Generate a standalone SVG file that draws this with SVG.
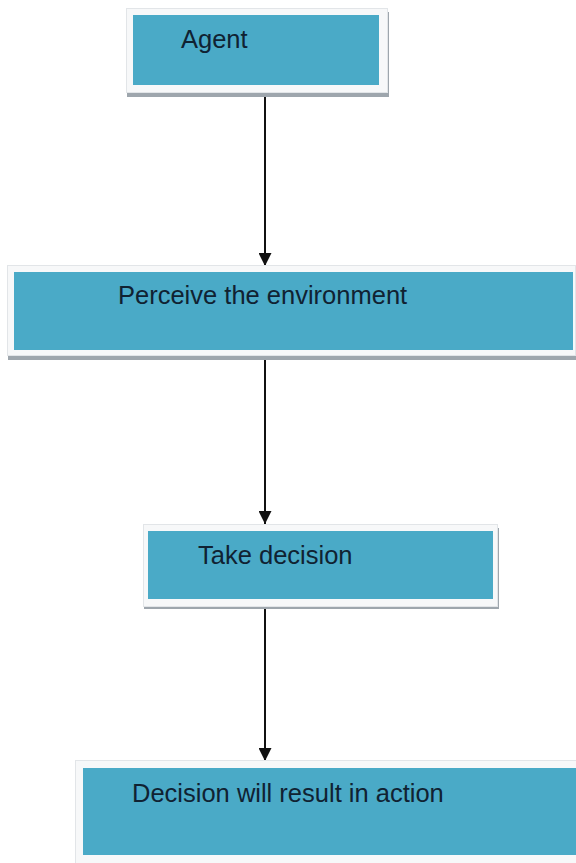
<svg xmlns="http://www.w3.org/2000/svg" width="576" height="863" viewBox="0 0 576 863">
<defs>
<style>
.frame{fill:#f7f8f9;stroke:#e2e5e8;stroke-width:1}
.shadow{fill:#9ea6ad}
.box{fill:#4aaac7}
.lbl{font-family:"Liberation Sans",Arial,sans-serif;font-size:25.5px;fill:#102232}
.conn{stroke:#111;stroke-width:2;fill:none}
</style>
<marker id="arr" viewBox="0 0 10 10" refX="10" refY="5" markerWidth="6.5" markerHeight="6.5" orient="auto" markerUnits="strokeWidth">
<path d="M0,0 L10,5 L0,10 Z" fill="#111"/>
</marker>
</defs>
<rect width="576" height="863" fill="#ffffff"/>
<g id="connectors">
<line class="conn" x1="265" y1="96" x2="265" y2="266" marker-end="url(#arr)"/>
<line class="conn" x1="265" y1="359" x2="265" y2="524" marker-end="url(#arr)"/>
<line class="conn" x1="265" y1="609" x2="265" y2="761" marker-end="url(#arr)"/>
</g>
<g id="node-agent">
<rect class="shadow" x="127" y="12" width="262" height="85"/>
<rect class="frame" x="126.5" y="8.5" width="261" height="84"/>
<rect class="box" x="133" y="15" width="246" height="70"/>
<text class="lbl" x="181" y="48">Agent</text>
</g>
<g id="node-perceive">
<rect class="shadow" x="8" y="270" width="568" height="90"/>
<rect class="frame" x="7.5" y="265.5" width="568" height="90"/>
<rect class="box" x="14" y="272" width="559" height="78"/>
<text class="lbl" x="118" y="304">Perceive the environment</text>
</g>
<g id="node-decision">
<rect class="shadow" x="144" y="528" width="355" height="81"/>
<rect class="frame" x="143.5" y="524.5" width="354" height="82"/>
<rect class="box" x="148" y="531" width="345" height="68"/>
<text class="lbl" x="198" y="564">Take decision</text>
</g>
<g id="node-action">
<rect class="frame" x="75.5" y="760.5" width="501" height="103"/>
<rect class="box" x="83" y="768" width="493" height="87"/>
<text class="lbl" x="132" y="802">Decision will result in action</text>
</g>
</svg>
